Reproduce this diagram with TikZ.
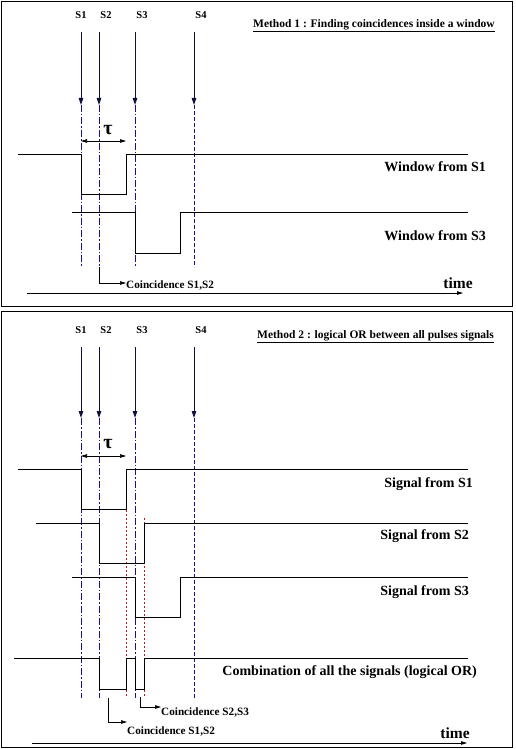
\documentclass[tikz,border=0pt]{standalone}
\usepackage{fontspec}
\setmainfont{Liberation Serif}
\usetikzlibrary{arrows.meta}
\definecolor{navyg}{RGB}{20,20,130}
\definecolor{navya}{RGB}{15,15,60}
\definecolor{redg}{RGB}{200,20,20}
\tikzset{
  frame/.style={line width=0.9pt},
  wave/.style={line width=0.8pt, black},
  sarrow/.style={line width=0.9pt, navya, -{Triangle[length=7pt,width=4.5pt]}},
  guide/.style={line width=0.7pt, navyg, dash pattern=on 7pt off 2pt on 1.5pt off 2pt},
  guidefour/.style={line width=0.7pt, navyg, dash pattern=on 4pt off 2pt},
  redguide/.style={line width=0.7pt, redg, dash pattern=on 2pt off 2pt},
  coinc/.style={line width=0.7pt, black, -{Triangle[length=6pt,width=3.5pt]}},
  tauarr/.style={line width=0.7pt, black, {Triangle[length=6pt,width=3.5pt]}-{Triangle[length=6pt,width=3.5pt]}},
  timearr/.style={line width=0.8pt, black, -{Triangle[length=6pt,width=3.5pt]}},
  slab/.style={font=\fontsize{10.5}{13}\selectfont\bfseries, inner sep=0pt},
  biglab/.style={font=\fontsize{14}{17}\selectfont\bfseries, inner sep=0pt, anchor=east},
  titlelab/.style={font=\fontsize{11.5}{12}\selectfont\bfseries, inner sep=0pt},
  coinlab/.style={font=\fontsize{11.2}{13}\selectfont\bfseries, inner sep=0pt, anchor=west},
  timelab/.style={font=\fontsize{15.5}{18}\selectfont\bfseries, inner sep=0pt},
  taulab/.style={font=\fontsize{20}{22}\selectfont\bfseries, inner sep=0pt},
}
\begin{document}
\begin{tikzpicture}[x=1pt,y=-1pt]
\useasboundingbox (0,0) rectangle (515,749);
% ===== Panel 1 =====
\draw[frame] (1.5,1.5) rectangle (512.5,306);
\node[slab] (p1l1) at (81,15) {S1};
\node[slab] (p1l2) at (106,15) {S2};
\node[slab] (p1l3) at (142,15) {S3};
\node[slab] (p1l4) at (201,15) {S4};
\node[titlelab, anchor=south west] (p1title) at (253,30) {Method 1 : Finding coincidences inside a window};
\draw[line width=0.7pt] ([yshift=-1.5pt]p1title.south west) -- ([yshift=-1.5pt]p1title.south east);
\foreach \i/\x in {1/81,2/99,3/135,4/194}{
  \coordinate (p1a\i) at (\x,32);
  \coordinate (p1t\i) at (\x,105);
  \draw[sarrow] (p1a\i) -- (p1t\i);
}
\draw[guide] (p1t1) -- (81,267);
\draw[guide] (p1t2) -- (99,267);
\draw[guide] (p1t3) -- (135,267);
\draw[guidefour] (p1t4) -- (194,267);
% tau
\node[taulab] (p1tau) at (108,130) {τ};
\coordinate (p1ta) at (81,141);
\coordinate (p1tb) at (126,141);
\draw[tauarr] (p1ta) -- (p1tb);
% windows
\draw[wave] (18,154) -- (81,154) -- (81,194) -- (126,194) -- (126,154) -- (468,154);
\node[biglab] (p1w1) at (486,167) {Window from S1};
\draw[wave] (72,212) -- (135,212) -- (135,253) -- (180,253) -- (180,212) -- (468,212);
\node[biglab] (p1w3) at (486,236) {Window from S3};
% coincidence
\node[coinlab] (p1c) at (126,285) {Coincidence S1,S2};
\coordinate (p1cs) at (99,267);
\coordinate (p1cc) at (99,283);
\draw[coinc] (p1cs) -- (p1cc) -- (p1c.west |- p1cc);
% time
\coordinate (p1x0) at (27,293);
\coordinate (p1x1) at (463,293);
\draw[timearr] (p1x0) -- (p1x1);
\node[timelab] (p1time) at (458,283) {time};
% ===== Panel 2 =====
\draw[frame] (1.5,311) rectangle (512.5,747.5);
\node[slab] (p2l1) at (81,330) {S1};
\node[slab] (p2l2) at (106,330) {S2};
\node[slab] (p2l3) at (142,330) {S3};
\node[slab] (p2l4) at (201,330) {S4};
\node[titlelab, anchor=south west] (p2title) at (257,341) {Method 2 : logical OR between all pulses signals};
\draw[line width=0.7pt] ([yshift=-1.5pt]p2title.south west) -- ([yshift=-1.5pt]p2title.south east);
\foreach \i/\x in {1/81,2/99,3/135,4/194}{
  \coordinate (p2a\i) at (\x,347);
  \coordinate (p2t\i) at (\x,418);
  \draw[sarrow] (p2a\i) -- (p2t\i);
}
\draw[guide] (p2t1) -- (81,698);
\draw[guide] (p2t2) -- (99,698);
\draw[guide] (p2t3) -- (135,698);
\draw[guidefour] (p2t4) -- (194,698);
\draw[redguide] (126,470) -- (126,698);
\draw[redguide] (144,518) -- (144,698);
% tau
\node[taulab] (p2tau) at (108,444) {τ};
\coordinate (p2ta) at (81,456);
\coordinate (p2tb) at (126,456);
\draw[tauarr] (p2ta) -- (p2tb);
% signals
\draw[wave] (18,469) -- (81,469) -- (81,509) -- (126,509) -- (126,469) -- (468,469);
\node[biglab] (p2s1) at (473,484) {Signal from S1};
\draw[wave] (36,523) -- (99,523) -- (99,563) -- (144,563) -- (144,523) -- (468,523);
\node[biglab] (p2s2) at (469,536) {Signal from S2};
\draw[wave] (72,577) -- (135,577) -- (135,617) -- (180,617) -- (180,577) -- (468,577);
\node[biglab] (p2s3) at (469,592) {Signal from S3};
\draw[wave] (14,658) -- (99,658) -- (99,689) -- (126,689) -- (126,658) -- (135,658) -- (135,689) -- (144,689) -- (144,658) -- (468,658);
\node[biglab] (p2or) at (477,672) {Combination of all the signals (logical OR)};
% coincidences
\node[coinlab] (p2c23) at (161,712) {Coincidence S2,S3};
\coordinate (p2c23s) at (140,697);
\coordinate (p2c23c) at (140,707);
\draw[coinc] (p2c23s) -- (p2c23c) -- (p2c23.west |- p2c23c);
\node[coinlab] (p2c12) at (127,731) {Coincidence S1,S2};
\coordinate (p2c12s) at (108,698);
\coordinate (p2c12c) at (108,722);
\draw[coinc] (p2c12s) -- (p2c12c) -- (p2c12.west |- p2c12c);
% time
\coordinate (p2x0) at (32,743);
\coordinate (p2x1) at (467,743);
\draw[timearr] (p2x0) -- (p2x1);
\node[timelab] (p2time) at (455,733) {time};
\end{tikzpicture}
\end{document}
